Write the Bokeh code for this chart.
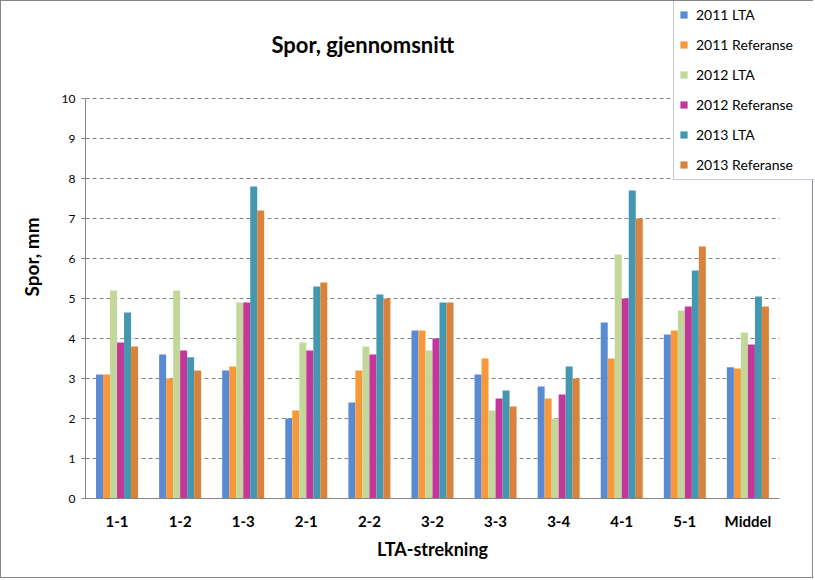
import numpy as np
from bokeh.plotting import figure
from bokeh.models import Range1d, FixedTicker, Legend, LegendItem, Label
from bokeh.embed import file_html
from bokeh.resources import INLINE

categories = ["1-1", "1-2", "1-3", "2-1", "2-2", "3-2", "3-3", "3-4", "4-1", "5-1", "Middel"]
lta_2011 = [3.1, 3.6, 3.2, 2.0, 2.4, 4.2, 3.1, 2.8, 4.4, 4.1, 3.28]
ref_2011 = [3.1, 3.0, 3.3, 2.2, 3.2, 4.2, 3.5, 2.5, 3.5, 4.2, 3.25]
lta_2012 = [5.2, 5.2, 4.9, 3.9, 3.8, 3.7, 2.2, 2.0, 6.1, 4.7, 4.15]
ref_2012 = [3.9, 3.7, 4.9, 3.7, 3.6, 4.0, 2.5, 2.6, 5.0, 4.8, 3.85]
lta_2013 = [4.65, 3.53, 7.8, 5.3, 5.1, 4.9, 2.7, 3.3, 7.7, 5.7, 5.05]
ref_2013 = [3.8, 3.2, 7.2, 5.4, 5.0, 4.9, 2.3, 3.0, 7.0, 6.3, 4.8]
series_names = ["2011 LTA", "2011 Referanse", "2012 LTA", "2012 Referanse", "2013 LTA", "2013 Referanse"]
y_ticks = [0, 1, 2, 3, 4, 5, 6, 7, 8, 9, 10]
title_text = "Spor, gjennomsnitt"
y_label = "Spor, mm"
x_label = "LTA-strekning"

colors = ["#5A8AD4", "#F7993A", "#C4D79B", "#C3379A", "#4397AE", "#D9823C"]
series = [lta_2011, ref_2011, lta_2012, ref_2012, lta_2013, ref_2013]

FONT = "Lato"
GRAY = "#868686"
NBSP = "\u00a0"

n = len(categories)
centers = np.arange(n) + 0.5

p = figure(x_range=Range1d(0, n + 35 / 63), y_range=Range1d(0, 12.425),
           width=813, height=578, output_backend="svg", toolbar_location=None,
           min_border_left=84, min_border_right=0, min_border_top=0, min_border_bottom=81)
p.styles = {"border": "1px solid " + GRAY}
p.outline_line_color = None
p.background_fill_color = "white"
p.border_fill_color = "white"

# gridlines (only over the category span, like the reference)
grid_y = [t for t in y_ticks if t > 0]
p.segment(x0=[0] * len(grid_y), x1=[n] * len(grid_y), y0=grid_y, y1=grid_y,
          line_color=GRAY, line_dash="4 3", line_width=1, level="underlay")

bw = 0.111
offsets = [(-2.5 + i) * bw for i in range(6)]
renderers = []
for i, s in enumerate(series):
    r = p.vbar(x=centers + offsets[i], top=s, width=bw,
               fill_color=colors[i], line_color=None)
    renderers.append(r)

# axes
p.yaxis.ticker = FixedTicker(ticks=y_ticks)
p.yaxis.bounds = (0, 10)
p.yaxis.major_label_text_font = FONT
p.yaxis.major_label_text_font_size = "12px"
p.yaxis.major_label_text_color = "black"
p.yaxis.axis_line_color = GRAY
p.yaxis.major_tick_line_color = GRAY
p.yaxis.major_tick_out = 4
p.yaxis.major_tick_in = 0
p.yaxis.minor_tick_line_color = None
p.yaxis.major_label_standoff = 6
# a few trailing no-break spaces nudge the label to where the reference has it
p.yaxis.axis_label = y_label + NBSP * 3
p.yaxis.axis_label_text_font = FONT
p.yaxis.axis_label_text_font_size = "19px"
p.yaxis.axis_label_text_font_style = "bold"
p.yaxis.axis_label_text_color = "black"
p.yaxis.axis_label_standoff = 16

p.xaxis.ticker = FixedTicker(ticks=list(centers))
p.xaxis.major_label_overrides = {float(c): lab for c, lab in zip(centers, categories)}
p.xaxis.bounds = (0, n)
p.xaxis.major_label_text_font = FONT
p.xaxis.major_label_text_font_size = "15px"
p.xaxis.major_label_text_font_style = "bold"
p.xaxis.major_label_text_color = "black"
p.xaxis.axis_line_color = GRAY
p.xaxis.major_tick_line_color = None
p.xaxis.minor_tick_line_color = None
p.xaxis.major_label_standoff = 7
p.xaxis.axis_label = x_label + NBSP * 8
p.xaxis.axis_label_text_font = FONT
p.xaxis.axis_label_text_font_size = "18px"
p.xaxis.axis_label_text_font_style = "bold"
p.xaxis.axis_label_text_color = "black"
p.xaxis.axis_label_standoff = 5

p.xgrid.grid_line_color = None
p.ygrid.grid_line_color = None

p.add_layout(Label(x=4.397, y=11.36, text=title_text, text_font=FONT, text_font_size="22px",
                   text_font_style="bold", text_color="black", text_align="center",
                   text_baseline="middle"))

legend = Legend(items=[LegendItem(label=nm, renderers=[r]) for nm, r in zip(series_names, renderers)],
                location=(588, 318), orientation="vertical")
legend.label_text_font = FONT
legend.label_text_font_size = "14px"
legend.label_text_color = "black"
legend.glyph_width = 9
legend.glyph_height = 9
legend.label_height = 20
legend.label_width = 113
legend.spacing = 10
legend.padding = 5
legend.margin = 0
legend.label_standoff = 8
legend.border_line_color = "#8497B0"
legend.border_line_width = 1
legend.background_fill_color = "white"
legend.background_fill_alpha = 1
p.add_layout(legend, "center")

open("out.html", "w").write(file_html(p, INLINE))
